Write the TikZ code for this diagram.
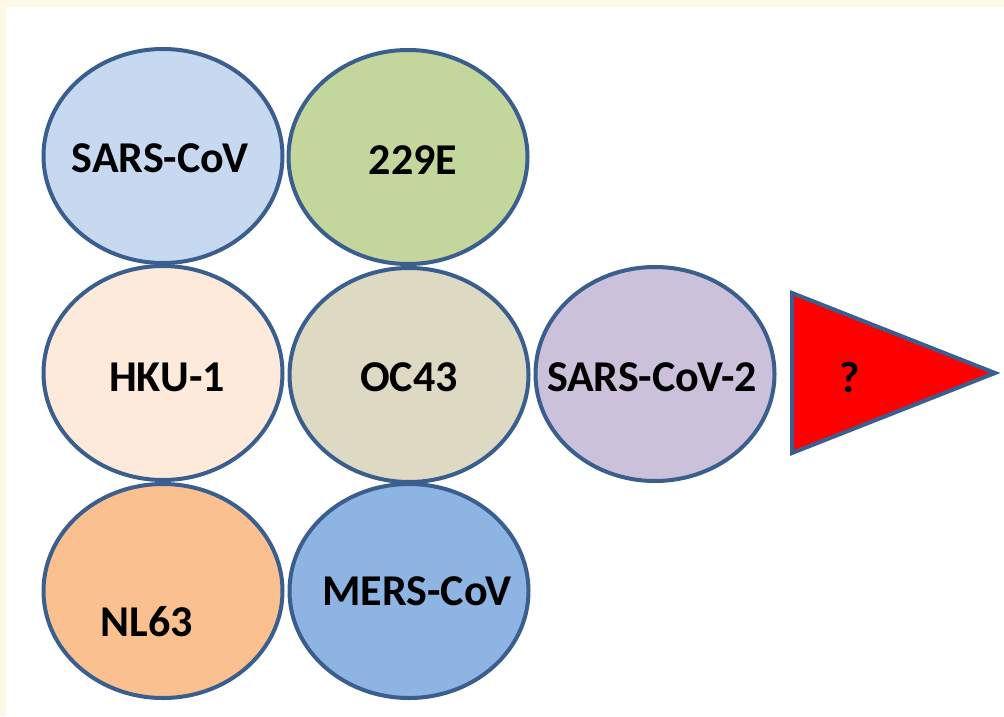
\documentclass[tikz,border=0pt]{standalone}
\usepackage{fontspec}
\setmainfont{Carlito}
\usetikzlibrary{shapes.geometric}

\definecolor{edgeblue}{HTML}{3A5F8E}
\definecolor{creampage}{HTML}{FEF9E6}
\definecolor{sarsfill}{HTML}{C6D9F1}
\definecolor{ezfill}{HTML}{C3D69B}
\definecolor{hkufill}{HTML}{FDEADA}
\definecolor{ocfill}{HTML}{DDD9C3}
\definecolor{covtwofill}{HTML}{CCC1DA}
\definecolor{nlfill}{HTML}{FAC090}
\definecolor{mersfill}{HTML}{8EB4E3}

\begin{document}
\begin{tikzpicture}[x=0.5pt,y=-0.5pt]
\fill[creampage] (0,0) rectangle (1004,716);
\fill[white] (6,7) rectangle (1004,716);
\useasboundingbox (0,0) rectangle (1004,716);

\begin{scope}[every node/.style={ellipse,draw=edgeblue,line width=2pt,
              minimum width=119.5pt,minimum height=107pt,inner sep=0pt}]
    \node[fill=sarsfill]   (sars)  at (163,156) {};
    \node[fill=ezfill]     (e229)  at (408,157) {};
    \node[fill=hkufill]    (hku)   at (163,373) {};
    \node[fill=ocfill]     (oc)    at (409,375) {};
    \node[fill=covtwofill] (covtwo) at (655,374) {};
    \node[fill=nlfill]     (nl)    at (163,591) {};
    \node[fill=mersfill]   (mers)  at (409,591) {};
\end{scope}

\coordinate (tritop) at (792,293);
\coordinate (tritip) at (995,373);
\coordinate (tribot) at (792,453);
\draw[fill=red,draw=edgeblue,line width=2pt,line join=miter]
    (tritop) -- (tritip) -- (tribot) -- cycle;

\begin{scope}[every node/.style={font=\fontsize{22pt}{26pt}\selectfont\bfseries,inner sep=0pt}]
    \node (sarst)  at ([xshift=-1.5pt,yshift=-1pt]sars.center) {SARS-CoV};
    \node (e229t)  at ([xshift=2.5pt,yshift=-1.5pt]e229.center) {229E};
    \node (hkut)   at ([xshift=2pt,yshift=-2pt]hku.center) {HKU-1};
    \node (oct)    at ([yshift=-1pt]oc.center) {OC43};
    \node (covtwot) at ([xshift=-1.5pt,yshift=-1.5pt]covtwo.center) {SARS-CoV-2};
    \node (nlt)    at ([xshift=-8pt,yshift=-15.5pt]nl.center) {NL63};
    \node (merst)  at ([xshift=4pt]mers.center) {MERS-CoV};
    \node (quest)  at (850,377) {?};
\end{scope}
\end{tikzpicture}
\end{document}
